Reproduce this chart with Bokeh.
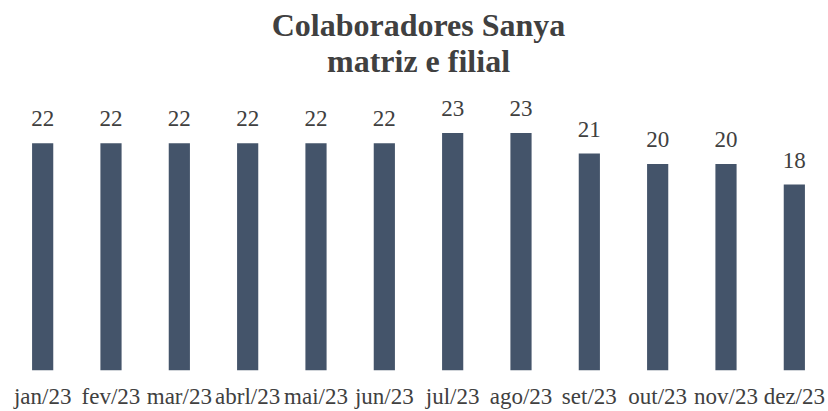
from bokeh.plotting import figure
from bokeh.models import ColumnDataSource, LabelSet, Label, Range1d
from bokeh.embed import file_html
from bokeh.resources import INLINE

months = ["jan/23", "fev/23", "mar/23", "abrl/23", "mai/23", "jun/23",
          "jul/23", "ago/23", "set/23", "out/23", "nov/23", "dez/23"]
values = [22, 22, 22, 22, 22, 22, 23, 23, 21, 20, 20, 18]
title_lines = ["Colaboradores Sanya", "matriz e filial"]

FONT = "Liberation Serif"
TXT = "#404040"
BAR = "#44546A"

src = ColumnDataSource(dict(m=months, v=values, t=[str(v) for v in values]))

p = figure(x_range=months, y_range=Range1d(0, 35.82), width=828, height=411,
           output_backend="svg", toolbar_location=None, min_border=0,
           min_border_left=8, min_border_right=0, min_border_top=0,
           min_border_bottom=41)
p.outline_line_color = None
p.background_fill_color = "white"
p.border_fill_color = "white"
p.yaxis.visible = False
p.xgrid.visible = False
p.ygrid.visible = False
p.xaxis.axis_line_color = None
p.xaxis.major_tick_line_color = None
p.xaxis.minor_tick_line_color = None
p.xaxis.major_tick_out = 0
p.xaxis.major_tick_in = 0
p.xaxis.major_label_standoff = 13
p.xaxis.major_label_text_font = FONT
p.xaxis.major_label_text_font_size = "23px"
p.xaxis.major_label_text_color = TXT
p.x_range.range_padding = 0

p.vbar(x="m", top="v", width=0.31, source=src, fill_color=BAR, line_color=None)

labels = LabelSet(x="m", y="v", text="t", source=src, text_align="center",
                  text_baseline="alphabetic", y_offset=17, text_font=FONT,
                  text_font_size="23px", text_color=TXT)
p.add_layout(labels)

for txt, yy in zip(title_lines, [33.4, 30.0]):
    p.add_layout(Label(x=410, x_units="screen", y=yy, text=txt,
                       text_align="center", text_baseline="middle",
                       text_font=FONT, text_font_size="32px",
                       text_font_style="bold", text_color=TXT))

open("out.html", "w").write(file_html(p, INLINE))
